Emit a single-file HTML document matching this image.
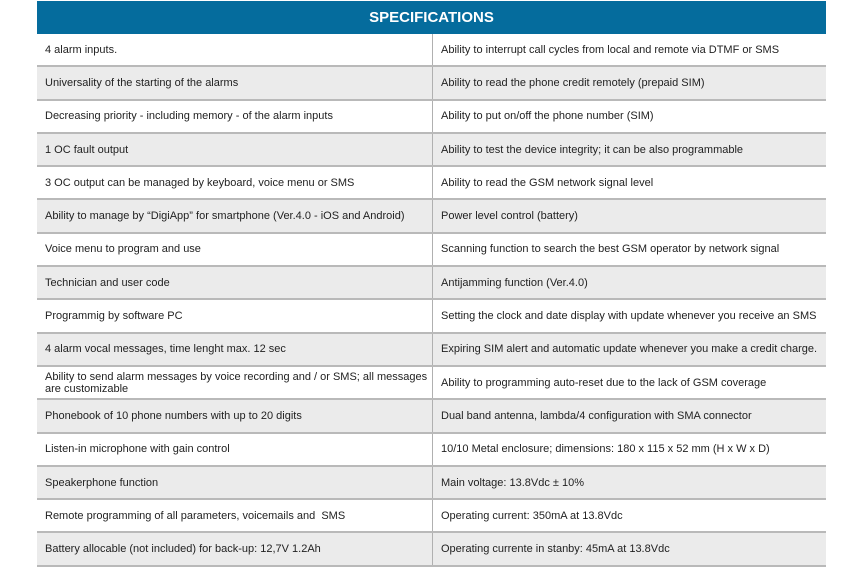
<!DOCTYPE html>
<html><head><meta charset="utf-8"><style>
body{margin:0;width:865px;height:576px;background:#fff;font-family:"Liberation Sans",sans-serif;overflow:hidden}
#hdr{position:absolute;left:37px;top:1px;width:789px;height:33px;background:#056c9d;color:#fff;font-weight:bold;font-size:15px;text-align:center;line-height:34px}
table{position:absolute;left:37px;top:34px;width:789px;border-collapse:collapse;font-size:11px;color:#222}
td{height:31.3px;padding:0 0 0 8px;border-bottom:2px solid #b9b9b9;line-height:12px;vertical-align:middle}
td+td{border-left:1.5px solid #b0b0b0}
td:first-child{width:387px}
tr:nth-child(even) td{background:#ebebeb}
</style></head><body>
<div id="hdr">SPECIFICATIONS</div>
<table>
<tr><td>4 alarm inputs.</td><td>Ability to interrupt call cycles from local and remote via DTMF or SMS</td></tr>
<tr><td>Universality of the starting of the alarms</td><td>Ability to read the phone credit remotely (prepaid SIM)</td></tr>
<tr><td>Decreasing priority - including memory - of the alarm inputs</td><td>Ability to put on/off the phone number (SIM)</td></tr>
<tr><td>1 OC fault output</td><td>Ability to test the device integrity; it can be also programmable</td></tr>
<tr><td>3 OC output can be managed by keyboard, voice menu or SMS</td><td>Ability to read the GSM network signal level</td></tr>
<tr><td>Ability to manage by “DigiApp” for smartphone (Ver.4.0 - iOS and Android)</td><td>Power level control (battery)</td></tr>
<tr><td>Voice menu to program and use</td><td>Scanning function to search the best GSM operator by network signal</td></tr>
<tr><td>Technician and user code</td><td>Antijamming function (Ver.4.0)</td></tr>
<tr><td>Programmig by software PC</td><td>Setting the clock and date display with update whenever you receive an SMS</td></tr>
<tr><td>4 alarm vocal messages, time lenght max. 12 sec</td><td>Expiring SIM alert and automatic update whenever you make a credit charge.</td></tr>
<tr><td>Ability to send alarm messages by voice recording and / or SMS; all messages are customizable</td><td>Ability to programming auto-reset due to the lack of GSM coverage</td></tr>
<tr><td>Phonebook of 10 phone numbers with up to 20 digits</td><td>Dual band antenna, lambda/4 configuration with SMA connector</td></tr>
<tr><td>Listen-in microphone with gain control</td><td>10/10 Metal enclosure; dimensions: 180 x 115 x 52 mm (H x W x D)</td></tr>
<tr><td>Speakerphone function</td><td>Main voltage: 13.8Vdc ± 10%</td></tr>
<tr><td>Remote programming of all parameters, voicemails and&nbsp; SMS</td><td>Operating current: 350mA at 13.8Vdc</td></tr>
<tr><td>Battery allocable (not included) for back-up: 12,7V 1.2Ah</td><td>Operating currente in stanby: 45mA at 13.8Vdc</td></tr>
</table>
</body></html>
